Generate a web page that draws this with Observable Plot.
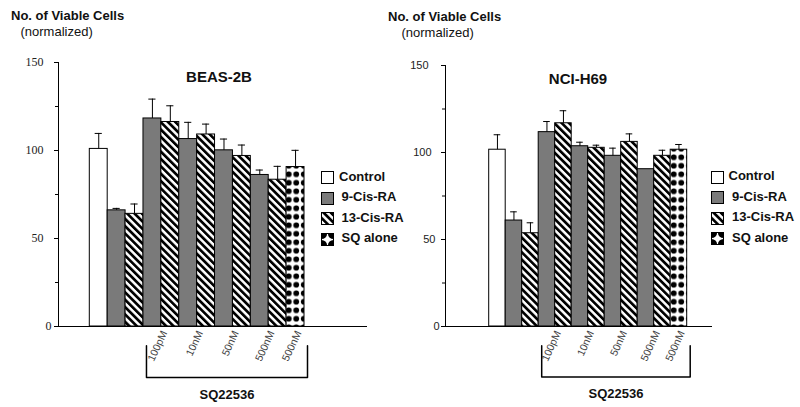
<!DOCTYPE html>
<html><head><meta charset="utf-8">
<script src="https://cdn.jsdelivr.net/npm/d3@7"></script>
<script src="https://cdn.jsdelivr.net/npm/@observablehq/plot@0.6"></script>
<style>
html,body{margin:0;padding:0;background:#fff;}
#chart{position:relative;width:800px;height:407px;overflow:hidden;font-family:"Liberation Sans",Arial,sans-serif;}
#chart svg.panel{position:absolute;top:0;}
#chart svg.serifTicks g[aria-label="y-axis tick label"]{font-family:"Liberation Serif","Times New Roman",serif;font-size:12px;}
#chart svg.sansTicks g[aria-label="y-axis tick label"]{font-family:"Liberation Sans",Arial,sans-serif;font-size:11px;}
.t{position:absolute;white-space:nowrap;color:#111;line-height:1;}
.sw{position:absolute;}
</style></head><body>
<svg width="0" height="0" style="position:absolute">
<defs>
<pattern id="hatch" patternUnits="userSpaceOnUse" width="5.2" height="5.2" patternTransform="rotate(-45)">
<rect width="5.2" height="5.2" fill="white"/><rect width="2.7" height="5.2" fill="black"/>
</pattern>
<pattern id="dots" patternUnits="userSpaceOnUse" width="7.5" height="8.5">
<rect width="7.5" height="8.5" fill="white"/><circle cx="3.75" cy="4.25" r="2.9" fill="black"/>
</pattern>
</defs></svg>
<div id="chart"></div>
<script>
// ---- data ----
const treatments = ["Control","9-Cis-RA","13-Cis-RA","9-Cis-RA","13-Cis-RA","9-Cis-RA","13-Cis-RA","9-Cis-RA","13-Cis-RA","9-Cis-RA","13-Cis-RA","SQ alone"];
const sqDoses = ["","","","100pM","100pM","10nM","10nM","50nM","50nM","500nM","500nM","500nM"];
const beasValues = [100.9,66.0,64.0,118.2,116.2,106.5,109.1,100.1,96.9,86.1,83.4,90.6];
const beasErrors = [8.8,1.1,5.6,11.0,9.2,9.5,5.9,6.4,6.2,2.8,7.6,9.5];
const nciValues = [101.6,60.9,53.6,111.7,116.8,103.6,102.7,98.1,106.1,90.4,98.1,101.6];
const nciErrors = [8.6,5.0,6.0,6.1,7.2,2.3,1.5,4.4,4.6,0,3.2,3.0];
const seriesNames = ["Control","9-Cis-RA","13-Cis-RA","SQ alone"];
const yTicks = [0,50,100,150];
const yMinorTicks = [25,75,125];
const panelTitles = ["BEAS-2B","NCI-H69"];
const yTitle = "No. of Viable Cells";
const ySubtitle = "(normalized)";
const groupName = "SQ22536";

// ---- styles ----
const seriesFills = ["white","#7a7a7a","url(#hatch)","url(#dots)"];

function panel(o) {
  const bars = treatments.map((t,i)=>({i, treatment:t, dose:sqDoses[i], value:o.values[i], err:o.errors[i]}));
  const errBars = bars.filter(d=>d.err>0);
  const sqBars = bars.filter(d=>d.dose);
  const groups = d3.groups(sqBars, d=>d.treatment==="SQ alone" ? "sq" : d.dose)
    .map(([k,g])=>({dose:g[0].dose, x:d3.mean(g,d=>d.i+0.5)}));
  const x0 = d3.min(sqBars,d=>d.i), x1 = d3.max(sqBars,d=>d.i)+1;
  const bracket = [{x:x0,y:-11},{x:x0,y:-29},{x:x1,y:-29},{x:x1,y:-11}];
  const tickAxes = yTicks.map((t,k)=>Plot.axisY({ticks:[t], tickSize:4, tickPadding:o.tickPads[k], label:null, fill:"#222"}));
  const svg = Plot.plot({
    width:400, height:407,
    marginLeft:o.marginLeft, marginRight:o.marginRight, marginTop:o.marginTop, marginBottom:81,
    style:{background:"transparent", overflow:"visible"},
    x:{type:"linear", domain:[0,bars.length], range:o.barRange, axis:null},
    y:{domain:[0,150], axis:null},
    color:{type:"ordinal", domain:seriesNames, range:seriesFills},
    marks:[
      Plot.rect(bars, {x1:"i", x2:d=>d.i+1, y1:0, y2:"value", fill:"treatment", stroke:"black", strokeWidth:1}),
      Plot.ruleX(errBars, {x:d=>d.i+0.5, y1:"value", y2:d=>d.value+d.err, stroke:"black"}),
      Plot.ruleY(errBars, {x1:d=>d.i+0.3, x2:d=>d.i+0.7, y:d=>d.value+d.err, stroke:"black"}),
      Plot.frame({anchor:"left", stroke:"black"}),
      Plot.ruleY([0], {stroke:"black"}),
      Plot.axisY({ticks:yMinorTicks, tickSize:3, tickFormat:()=>"", label:null}),
      ...tickAxes,
      Plot.text(groups, {x:"x", y:0, text:"dose", rotate:-65, textAnchor:"end", dx:3, dy:5, fontSize:10.5, fontFamily:"Liberation Sans", fill:"#444"}),
      Plot.line(bracket, {x:"x", y:"y", stroke:"black", dx:3}),
      Plot.text([groupName], {x:(x0+x1)/2, y:-29, dy:17, dx:3, text:d=>d, fontWeight:"bold", fontSize:13, fontFamily:"Liberation Sans", fill:"#111"})
    ]
  });
  svg.classList.add("panel", o.tickClass);
  svg.style.left = o.left + "px";
  return svg;
}

const chart = document.getElementById("chart");
chart.appendChild(panel({left:0, values:beasValues, errors:beasErrors, marginLeft:58, marginRight:33, marginTop:62, barRange:[89.3,304], tickClass:"serifTicks", tickPads:[3,11,11,11]}));
chart.appendChild(panel({left:400, values:nciValues, errors:nciErrors, marginLeft:45, marginRight:88, marginTop:65, barRange:[88.7,286.7], tickClass:"sansTicks", tickPads:[2,6,10,13]}));

function addText(txt, x, y, css) {
  const d = document.createElement("div");
  d.className = "t"; d.textContent = txt;
  d.style.left = x + "px"; d.style.top = y + "px";
  Object.assign(d.style, css || {});
  chart.appendChild(d);
}
// axis titles
addText(yTitle, 11, 9.2, {fontSize:"13px", fontWeight:"bold"});
addText(ySubtitle, 20.5, 24.6, {fontSize:"13px"});
addText(yTitle, 388, 9.8, {fontSize:"13px", fontWeight:"bold"});
addText(ySubtitle, 401.5, 26.2, {fontSize:"13px"});
// panel titles
addText(panelTitles[0], 219, 69.3, {fontSize:"15px", fontWeight:"bold", transform:"translateX(-50%)"});
addText(panelTitles[1], 578, 71, {fontSize:"15px", fontWeight:"bold", transform:"translateX(-50%)"});

// legends
const sqSwatch = '<rect x="0.5" y="0.5" width="12" height="12" fill="white" stroke="black"/><circle cx="0.5" cy="0.5" r="5.6"/><circle cx="12.5" cy="0.5" r="5.6"/><circle cx="0.5" cy="12.5" r="5.6"/><circle cx="12.5" cy="12.5" r="5.6"/><rect x="0.5" y="0.5" width="12" height="12" fill="none" stroke="black"/>';
function legend(swX, tops, textX) {
  seriesNames.forEach((s,k)=>{
    const svg = document.createElementNS("http://www.w3.org/2000/svg","svg");
    svg.setAttribute("width",13); svg.setAttribute("height",13);
    svg.setAttribute("class","sw");
    svg.style.left = swX+"px"; svg.style.top = tops[k]+"px";
    svg.innerHTML = s==="SQ alone" ? sqSwatch :
      `<rect x="0.5" y="0.5" width="12" height="12" fill="${seriesFills[k]}" stroke="black"/>`;
    chart.appendChild(svg);
    addText(s, textX[k], tops[k]-1.4, {fontSize:"13px", fontWeight:"bold"});
  });
}
legend(321, [171,191.5,212,232.5], [339,341.5,341.5,341.5]);
legend(711, [170.5,191,211.5,232], [728.5,732,732,732]);
</script>
</body></html>
